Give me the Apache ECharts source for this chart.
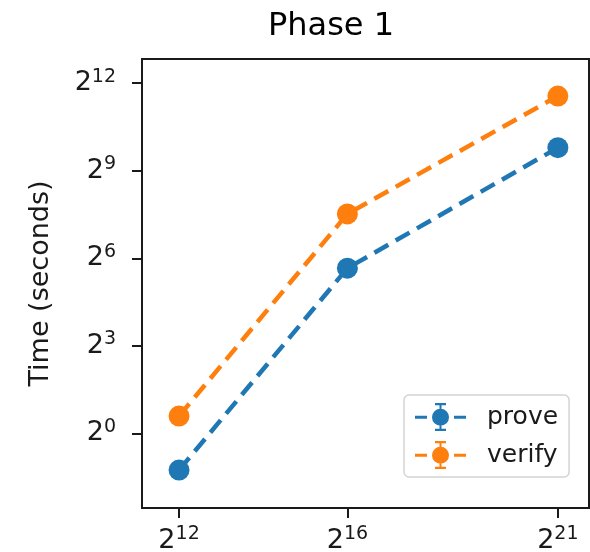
<!DOCTYPE html>
<html>
<head>
<meta charset="utf-8">
<script src="https://cdn.jsdelivr.net/npm/echarts@6/dist/echarts.min.js"></script>
<style>html,body{margin:0;padding:0;background:#fff}#c{width:590px;height:552px}</style>
</head>
<body>
<div id="c"></div>
<script>
// x: problem size as log2 exponent; y: time in seconds as log2 exponent (axes are log base 2)
var sizeExp = [12, 16, 21];
var proveLog2 = [-1.26, 5.66, 9.79];
var verifyLog2 = [0.59, 7.52, 11.56];
var xTickExps = [12, 16, 21];
var yTickExps = [0, 3, 6, 9, 12];
var seriesNames = ['prove', 'verify'];

var FONT = 'DejaVu Sans';
function pts(ys) { return sizeExp.map(function (x, i) { return [x, ys[i]]; }); }
function powLabel(v) { return '{b|2}{s|' + Math.round(v) + '}'; }
var rich = {
  b: { fontFamily: FONT, fontSize: 27, color: '#1a1a1a', lineHeight: 32 },
  s: { fontFamily: FONT, fontSize: 19, color: '#1a1a1a', verticalAlign: 'top', lineHeight: 22 }
};
// legend icon: dash, marker with error bar, dash
var icon = 'path://M0,12.8h12v3h-12z M39,12.8h12v3h-12z M17,14.3a8.5,8.5 0 1,1 17,0a8.5,8.5 0 1,1 -17,0z M24.5,1h2v5h-2z M24.5,22.6h2v4.4h-2z M20,0h11v2.2h-11z M20,25.8h11v2.2h-11z';

var chart = echarts.init(document.getElementById('c'), null, { renderer: 'canvas' });
chart.setOption({
  animation: false,
  backgroundColor: '#fff',
  title: {
    text: 'Phase 1', left: 326, top: 6, textAlign: 'center',
    textStyle: { fontFamily: FONT, fontSize: 32, fontWeight: 'normal', color: '#000' }
  },
  grid: { left: 142, top: 59, right: 1, bottom: 44, outerBoundsMode: 'none', containLabel: false,
    show: true, borderColor: '#1a1a1a', borderWidth: 2, backgroundColor: 'transparent' },
  legend: {
    orient: 'vertical', left: 404, top: 395,
    padding: [8, 11, 8, 11], itemGap: 10, itemWidth: 51, itemHeight: 28,
    borderColor: '#d4d4d4', borderWidth: 1.5, borderRadius: 5, backgroundColor: 'rgba(255,255,255,0.85)',
    textStyle: { fontFamily: FONT, fontSize: 25, color: '#1a1a1a', padding: [0, 0, 0, 16] },
    data: seriesNames.map(function (n) { return { name: n, icon: icon }; })
  },
  xAxis: {
    type: 'value', min: 11.12, max: 21.74,
    axisLine: { show: true, onZero: false, lineStyle: { color: '#1a1a1a', width: 2 } },
    axisTick: { show: true, inside: false, length: 10, customValues: xTickExps, lineStyle: { color: '#1a1a1a', width: 2 } },
    axisLabel: { customValues: xTickExps, margin: 17, formatter: powLabel, rich: rich },
    splitLine: { show: false }
  },
  yAxis: {
    type: 'value', min: -2.56, max: 12.83,
    name: 'Time (seconds)', nameLocation: 'middle', nameGap: 88, nameRotate: 90,
    nameTextStyle: { fontFamily: FONT, fontSize: 27, color: '#1a1a1a' },
    axisLine: { show: true, onZero: false, lineStyle: { color: '#1a1a1a', width: 2 } },
    axisTick: { show: true, inside: false, length: 10, customValues: yTickExps, lineStyle: { color: '#1a1a1a', width: 2 } },
    axisLabel: { customValues: yTickExps, margin: 26, formatter: powLabel, rich: rich },
    splitLine: { show: false }
  },
  series: [
    { name: seriesNames[0], type: 'line', data: pts(proveLog2), color: '#1f77b4',
      symbol: 'circle', symbolSize: 21, lineStyle: { width: 4.5, type: [16, 8.5] }, itemStyle: { color: '#1f77b4' } },
    { name: seriesNames[1], type: 'line', data: pts(verifyLog2), color: '#ff7f0e',
      symbol: 'circle', symbolSize: 21, lineStyle: { width: 4.5, type: [16, 8.5] }, itemStyle: { color: '#ff7f0e' } }
  ]
});
</script>
</body>
</html>
